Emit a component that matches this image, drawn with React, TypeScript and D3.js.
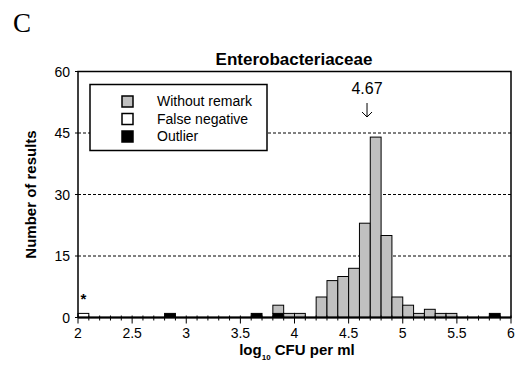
import React from "react";
import * as d3 from "d3";

const binStarts = [2.0, 2.8, 3.6, 3.8, 3.9, 4.0, 4.2, 4.3, 4.4, 4.5, 4.6, 4.7, 4.8, 4.9, 5.0, 5.1, 5.2, 5.3, 5.4, 5.8];
const outlier = [0, 1, 1, 1, 0, 0, 0, 0, 0, 0, 0, 0, 0, 0, 0, 0, 0, 0, 0, 1];
const withoutRemark = [0, 0, 0, 2, 1, 1, 5, 9, 10, 12, 23, 44, 20, 5, 3, 1, 2, 1, 1, 0];
const falseNegative = [1, 0, 0, 0, 0, 0, 0, 0, 0, 0, 0, 0, 0, 0, 0, 0, 0, 0, 0, 0];
const seriesNames = ["Outlier", "Without remark", "False negative"];
const legendOrder = ["Without remark", "False negative", "Outlier"];
const yTicks = [0, 15, 30, 45, 60];
const xTicks = [2, 2.5, 3, 3.5, 4, 4.5, 5, 5.5, 6];
const binWidth = 0.1;
const medianValue = 4.67;

const colors: Record<string, string> = {
  "Without remark": "#c0c0c0",
  "False negative": "#ffffff",
  Outlier: "#000000",
};

export default function App() {
  const W = 517, H = 371;
  const x = d3.scaleLinear().domain([2, 6]).range([78, 511]);
  const y = d3.scaleLinear().domain([0, 60]).range([317.5, 71.5]);

  const rows = binStarts.map((b, i) => ({
    b,
    Outlier: outlier[i],
    "Without remark": withoutRemark[i],
    "False negative": falseNegative[i],
  }));
  const stack = d3.stack<any>().keys(seriesNames)(rows);

  const minorTicks = d3.range(0, 41).map((i) => 2 + i * binWidth);
  const font = "'Liberation Sans', Arial, sans-serif";
  const ax = x(medianValue);

  return (
    <svg width={W} height={H} style={{ position: "absolute", left: 0, top: 0, background: "#fff" }}>
      <text x={13} y={32} fontFamily="'Liberation Serif', 'Times New Roman', serif" fontSize={27}>C</text>
      <text x={294} y={65} textAnchor="middle" fontFamily={font} fontWeight="bold" fontSize={17}>Enterobacteriaceae</text>

      {/* gridlines */}
      {yTicks.filter((t) => t > 0 && t < 60).map((t) => (
        <line key={t} x1={x(2)} x2={x(6)} y1={y(t)} y2={y(t)} stroke="#000" strokeWidth={1} strokeDasharray="3,2" />
      ))}

      {/* bars */}
      {stack.map((s) => (
        <g key={s.key}>
          {s.map((d, i) =>
            d[1] - d[0] > 0 ? (
              <rect
                key={i}
                x={x(binStarts[i])}
                width={x(binStarts[i] + binWidth) - x(binStarts[i])}
                y={y(d[1])}
                height={y(d[0]) - y(d[1])}
                fill={colors[s.key]}
                stroke="#000"
                strokeWidth={1}
              />
            ) : null
          )}
        </g>
      ))}

      {/* plot border */}
      <rect x={x(2)} y={y(60)} width={x(6) - x(2)} height={y(0) - y(60)} fill="none" stroke="#000" strokeWidth={1.5} />
      <line x1={x(2)} x2={x(6)} y1={y(0)} y2={y(0)} stroke="#000" strokeWidth={2} />

      {/* x ticks */}
      {minorTicks.map((t, i) => (
        <line key={i} x1={x(t)} x2={x(t)} y1={y(0) - 2} y2={y(0) + (i % 5 === 0 ? 6 : 3)} stroke="#000" strokeWidth={1} />
      ))}
      {xTicks.map((t) => (
        <text key={t} x={x(t)} y={y(0) + 20} textAnchor="middle" fontFamily={font} fontSize={14}>{t}</text>
      ))}
      {/* y ticks */}
      {yTicks.map((t) => (
        <g key={t}>
          <line x1={x(2) - 3} x2={x(2)} y1={y(t)} y2={y(t)} stroke="#000" strokeWidth={1} />
          <text x={x(2) - 8} y={y(t) + 5} textAnchor="end" fontFamily={font} fontSize={14}>{t}</text>
        </g>
      ))}

      {/* axis titles */}
      <text x={297} y={355} textAnchor="middle" fontFamily={font} fontWeight="bold" fontSize={15}>
        log<tspan fontSize={8} dy={5}>10</tspan><tspan dy={-5}> CFU per ml</tspan>
      </text>
      <text transform={`translate(36,${(y(0) + y(60)) / 2}) rotate(-90)`} textAnchor="middle" fontFamily={font} fontWeight="bold" fontSize={15}>
        Number of results
      </text>

      {/* asterisk */}
      <text x={x(2.05)} y={y(3.2)} textAnchor="middle" fontFamily={font} fontWeight="bold" fontSize={15}>*</text>

      {/* median annotation */}
      <text x={x(medianValue)} y={93.5} textAnchor="middle" fontFamily={font} fontSize={16}>{medianValue}</text>
      <path d={`M${ax},103 V117 M${ax - 5},112 L${ax},117 L${ax + 5},112`} fill="none" stroke="#000" strokeWidth={1} />

      {/* legend */}
      <rect x={90} y={84.5} width={177} height={66} fill="#fff" stroke="#000" strokeWidth={1.5} />
      {legendOrder.map((k, i) => (
        <g key={k}>
          <rect x={122} y={96 + i * 17.5} width={11} height={11} fill={colors[k]} stroke="#000" strokeWidth={1.5} />
          <text x={157} y={106 + i * 17.5} fontFamily={font} fontSize={14}>{k}</text>
        </g>
      ))}
    </svg>
  );
}
